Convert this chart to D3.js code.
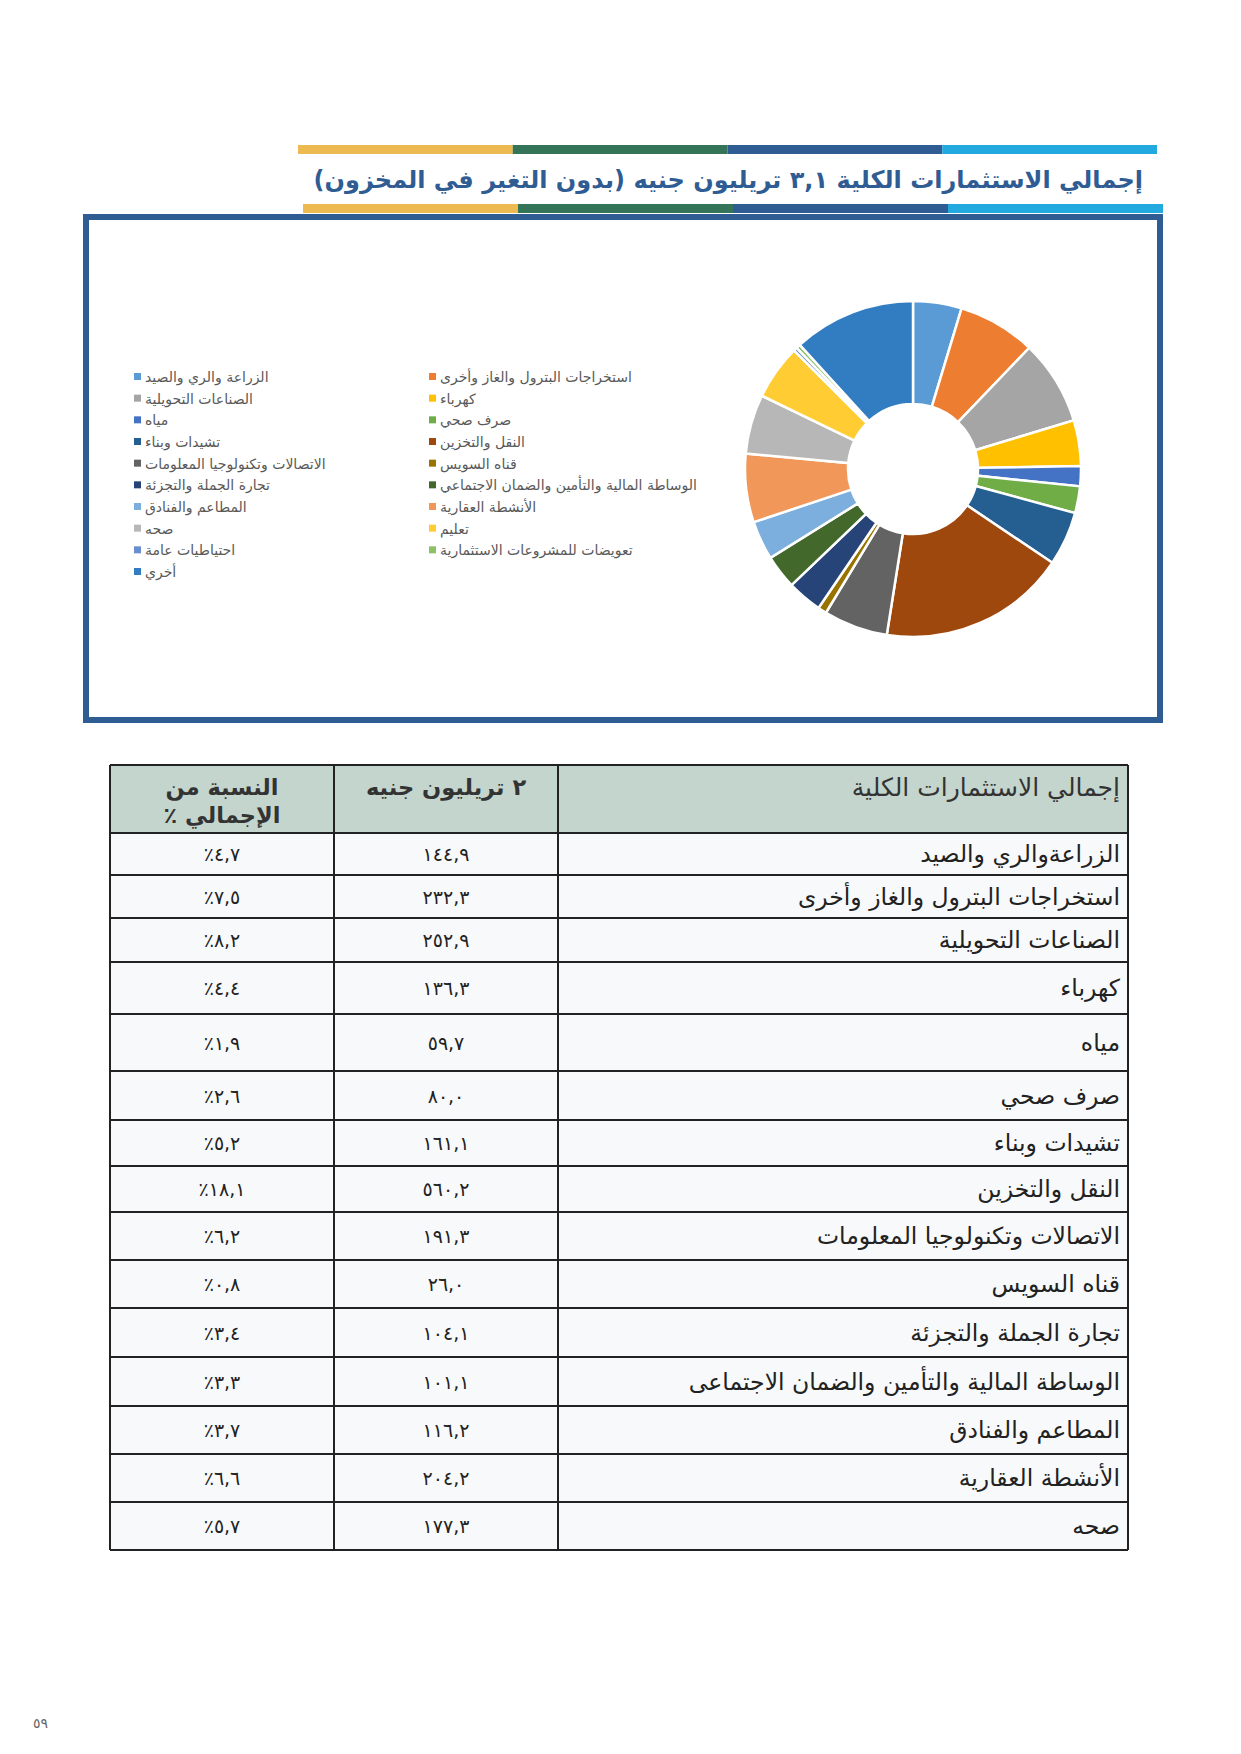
<!DOCTYPE html>
<html>
<head>
<meta charset="utf-8">
<script src="https://cdn.jsdelivr.net/npm/d3@7"></script>
<style>
  body { margin: 0; background: #fff; }
  svg text { font-family: "DejaVu Sans", sans-serif; }
</style>
</head>
<body>
<div id="holder"></div>
<script>
// pie chart categories (legend order) and values, billion EGP
const pieLabels = [
  'الزراعة والري والصيد', 'استخراجات البترول والغاز وأخرى',
  'الصناعات التحويلية', 'كهرباء',
  'مياه', 'صرف صحي',
  'تشيدات وبناء', 'النقل والتخزين',
  'الاتصالات وتكنولوجيا المعلومات', 'قناه السويس',
  'تجارة الجملة والتجزئة', 'الوساطة المالية والتأمين والضمان الاجتماعي',
  'المطاعم والفنادق', 'الأنشطة العقارية',
  'صحه', 'تعليم',
  'احتياطيات عامة', 'تعويضات للمشروعات الاستثمارية',
  'أخري'
];
const pieValues = [144.9, 232.3, 252.9, 136.3, 59.7, 80.0, 161.1, 560.2, 191.3, 26.0,
  104.1, 101.1, 116.2, 204.2, 177.3, 164.0, 11.0, 12.4, 365.0];
const pieColors = ['#5B9BD5', '#ED7D31', '#A5A5A5', '#FFC000', '#4472C4', '#70AD47',
  '#255E91', '#9E480E', '#636363', '#997300', '#264478', '#43682B', '#7CAFDD',
  '#F1975A', '#B7B7B7', '#FFCD33', '#698ED0', '#8CC168', '#327DC2'];

// table
const tableNames = [
  'الزراعةوالري والصيد', 'استخراجات البترول والغاز وأخرى', 'الصناعات التحويلية',
  'كهرباء', 'مياه', 'صرف صحي', 'تشيدات وبناء', 'النقل والتخزين',
  'الاتصالات وتكنولوجيا المعلومات', 'قناه السويس', 'تجارة الجملة والتجزئة',
  'الوساطة المالية والتأمين والضمان الاجتماعى', 'المطاعم والفنادق',
  'الأنشطة العقارية', 'صحه'
];
const tableValues = [144.9, 232.3, 252.9, 136.3, 59.7, 80.0, 161.1, 560.2, 191.3, 26.0,
  104.1, 101.1, 116.2, 204.2, 177.3];
const tablePct = [4.7, 7.5, 8.2, 4.4, 1.9, 2.6, 5.2, 18.1, 6.2, 0.8, 3.4, 3.3, 3.7, 6.6, 5.7];
const tableHeader = ['إجمالي الاستثمارات الكلية', '٢ تريليون جنيه', ['النسبة من', 'الإجمالي ٪']];

const titleText = 'إجمالي الاستثمارات الكلية ٣,١ تريليون جنيه (بدون التغير في المخزون)';
const pageNumber = '٥٩';

const W = 1241, H = 1754;
const arDigits = '٠١٢٣٤٥٦٧٨٩';
const toAr = v => v.toFixed(1).replace(/\d/g, d => arDigits[d]).replace('.', ',');

const svg = d3.select('#holder').append('svg')
  .attr('width', W).attr('height', H);

// decorative bars above/below the title
const barColors = ['#EDB951', '#347459', '#2F5D93', '#22A9E0'];
function bars(x0, x1, y, h) {
  const bx = d3.scaleLinear().domain([0, 4]).range([x0, x1]);
  svg.append('g').selectAll('rect').data(barColors).enter().append('rect')
    .attr('x', (_, i) => bx(i)).attr('y', y)
    .attr('width', (_, i) => bx(i + 1) - bx(i)).attr('height', h)
    .attr('fill', d => d);
}
bars(298, 1157, 145, 9);
bars(303, 1163, 204, 9);

svg.append('text')
  .attr('x', 1143).attr('y', 188)
  .attr('direction', 'rtl').attr('text-anchor', 'start')
  .attr('font-size', 24).attr('font-weight', 'bold')
  .attr('fill', '#2F5D93')
  .text(titleText);

// chart frame
svg.append('rect')
  .attr('x', 86).attr('y', 217).attr('width', 1074).attr('height', 503)
  .attr('fill', '#fff').attr('stroke', '#2F5D93').attr('stroke-width', 6);

// doughnut
const pie = d3.pie().sort(null).value(d => d);
const arc = d3.arc().innerRadius(65).outerRadius(168);
svg.append('g')
  .attr('transform', 'translate(913,469)')
  .selectAll('path')
  .data(pie(pieValues))
  .enter().append('path')
  .attr('d', arc)
  .attr('fill', (_, i) => pieColors[i])
  .attr('stroke', '#fff').attr('stroke-width', 2.5);

// legend, two columns, row-wise
const legX = [134, 429];
const legY = d3.scaleLinear().domain([0, 9]).range([377, 572]);
const leg = svg.append('g').selectAll('g')
  .data(pieLabels).enter().append('g')
  .attr('transform', (_, i) => 'translate(' + legX[i % 2] + ',' + legY(Math.floor(i / 2)) + ')');
leg.append('rect')
  .attr('x', 0).attr('y', -4).attr('width', 7).attr('height', 7)
  .attr('fill', (_, i) => pieColors[i]);
leg.append('text')
  .attr('x', 11).attr('y', 5)
  .attr('font-size', 14).attr('fill', '#595959')
  .text(d => d);

// table
const colX = [110, 334, 558, 1128];
const rowEdges = [765, 833, 875, 918, 962, 1014, 1071, 1120, 1166, 1212, 1260, 1308, 1357, 1406, 1454, 1502, 1550];
const tbl = svg.append('g');

tbl.append('rect')
  .attr('x', colX[0]).attr('y', rowEdges[0])
  .attr('width', colX[3] - colX[0]).attr('height', rowEdges[1] - rowEdges[0])
  .attr('fill', '#C4D5CE');
tbl.selectAll('rect.row')
  .data(tableNames).enter().append('rect')
  .attr('class', 'row')
  .attr('x', colX[0]).attr('y', (_, i) => rowEdges[i + 1])
  .attr('width', colX[3] - colX[0])
  .attr('height', (_, i) => rowEdges[i + 2] - rowEdges[i + 1])
  .attr('fill', '#F8F9FB');

tbl.selectAll('line.h')
  .data(rowEdges).enter().append('line')
  .attr('x1', colX[0]).attr('x2', colX[3])
  .attr('y1', d => d).attr('y2', d => d)
  .attr('stroke', '#222').attr('stroke-width', 2);
tbl.selectAll('line.v')
  .data(colX).enter().append('line')
  .attr('x1', d => d).attr('x2', d => d)
  .attr('y1', rowEdges[0]).attr('y2', rowEdges[rowEdges.length - 1])
  .attr('stroke', '#222').attr('stroke-width', 2);

// header
tbl.append('text')
  .attr('x', colX[3] - 8).attr('y', 796)
  .attr('direction', 'rtl').attr('text-anchor', 'start')
  .attr('font-size', 25).attr('fill', '#333')
  .text(tableHeader[0]);
tbl.append('text')
  .attr('x', (colX[1] + colX[2]) / 2).attr('y', 795)
  .attr('direction', 'rtl').attr('text-anchor', 'middle')
  .attr('font-size', 22.5).attr('font-weight', 'bold').attr('fill', '#333')
  .text(tableHeader[1]);
tbl.selectAll('text.h3')
  .data(tableHeader[2]).enter().append('text')
  .attr('x', (colX[0] + colX[1]) / 2).attr('y', (_, i) => 795 + i * 28)
  .attr('direction', 'rtl').attr('text-anchor', 'middle')
  .attr('font-size', 22.5).attr('font-weight', 'bold').attr('fill', '#333')
  .text(d => d);

// body rows
const rowMid = i => (rowEdges[i + 1] + rowEdges[i + 2]) / 2 + 8;
tbl.selectAll('text.name')
  .data(tableNames).enter().append('text')
  .attr('x', colX[3] - 8).attr('y', (_, i) => rowMid(i))
  .attr('direction', 'rtl').attr('text-anchor', 'start')
  .attr('font-size', 23.5).attr('fill', '#222')
  .text(d => d);
tbl.selectAll('text.val')
  .data(tableValues).enter().append('text')
  .attr('x', (colX[1] + colX[2]) / 2).attr('y', (_, i) => rowMid(i) - 1)
  .attr('text-anchor', 'middle')
  .attr('font-size', 19).attr('fill', '#222')
  .text(d => toAr(d));
tbl.selectAll('text.pct')
  .data(tablePct).enter().append('text')
  .attr('x', (colX[0] + colX[1]) / 2).attr('y', (_, i) => rowMid(i) - 1)
  .attr('text-anchor', 'middle')
  .attr('font-size', 19).attr('fill', '#222')
  .text(d => '٪' + toAr(d));

svg.append('text')
  .attr('x', 33).attr('y', 1728)
  .attr('font-size', 14).attr('fill', '#666')
  .text(pageNumber);
</script>
</body>
</html>
